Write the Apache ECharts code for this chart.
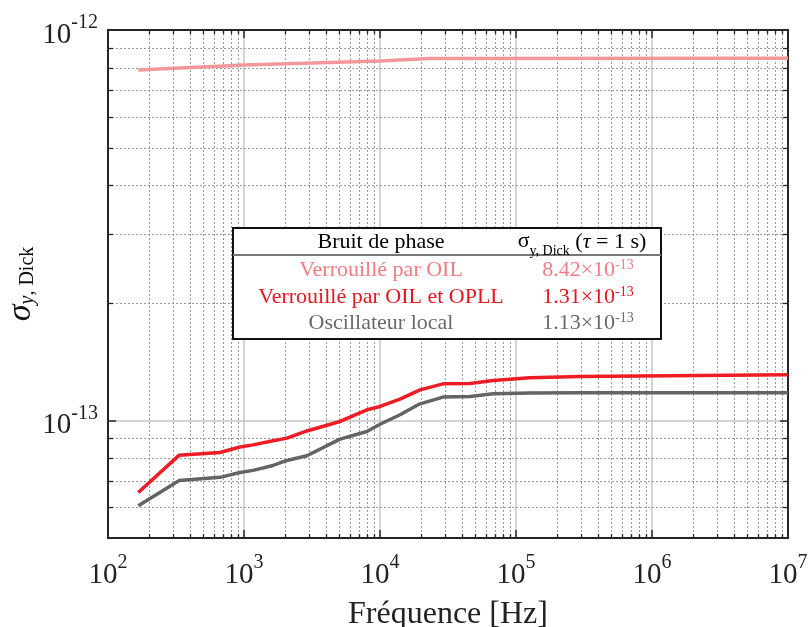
<!DOCTYPE html>
<html><head><meta charset="utf-8">
<script src="https://cdn.jsdelivr.net/npm/echarts@6/dist/echarts.min.js"></script>
<style>html,body{margin:0;padding:0;background:#fff}#c{width:810px;height:627px}</style>
</head><body><div id="c"></div>
<script>
// ---- data ----
const freqLocked = [167, 334, 666, 934, 1165, 1635, 2070, 2900, 5080, 8020, 10000, 14030, 19680, 29060, 45900, 67760, 126800, 295600, 1e7];
const sigmaOilOpll = [6.54e-14, 8.15e-14, 8.28e-14, 8.55e-14, 8.66e-14, 8.87e-14, 9.01e-14, 9.40e-14, 9.94e-14, 1.065e-13, 1.086e-13, 1.134e-13, 1.198e-13, 1.241e-13, 1.243e-13, 1.266e-13, 1.286e-13, 1.296e-13, 1.309e-13];
const sigmaLocal   = [6.05e-14, 7.02e-14, 7.15e-14, 7.36e-14, 7.45e-14, 7.67e-14, 7.90e-14, 8.12e-14, 8.96e-14, 9.37e-14, 9.78e-14, 1.034e-13, 1.103e-13, 1.148e-13, 1.152e-13, 1.170e-13, 1.175e-13, 1.177e-13, 1.177e-13];
const freqOil = [167, 1000, 10000, 23000, 1e7];
const sigmaOil = [7.90e-13, 8.14e-13, 8.33e-13, 8.45e-13, 8.47e-13];

const xMinor = [200,300,400,500,600,700,800,900,2e3,3e3,4e3,5e3,6e3,7e3,8e3,9e3,2e4,3e4,4e4,5e4,6e4,7e4,8e4,9e4,2e5,3e5,4e5,5e5,6e5,7e5,8e5,9e5,2e6,3e6,4e6,5e6,6e6,7e6,8e6,9e6];
const yMinor = [6e-14,7e-14,8e-14,9e-14,2e-13,3e-13,4e-13,5e-13,6e-13,7e-13,8e-13,9e-13];

const legendHeader = ['Bruit de phase', 'σ', 'y, Dick', ' (', 'τ', ' = 1 s)'];
const legendLabels = ['Verrouillé par OIL', 'Verrouillé par OIL et OPLL', 'Oscillateur local'];
const legendValues = [8.42e-13, 1.31e-13, 1.13e-13];

// ---- styles ----
const FONT = '"Liberation Serif", "Times New Roman", serif';
const colPink = '#F3979C', colRed = '#EE1C25', colGray = '#646464';
const txtColors = ['#F07C84', '#E8141F', '#6a6a6a'];
const axisCol = '#262626';

function powLabel(v) {
  const l = Math.log10(v);
  const e = Math.round(l);
  if (Math.abs(l - e) > 1e-6) return '';
  return '{b|10}{s|' + e + '}';
}
const labelRich = {
  b: {fontFamily: FONT, fontSize: 29, color: '#222', lineHeight: 44},
  s: {fontFamily: FONT, fontSize: 20, color: '#222', verticalAlign: 'top', lineHeight: 20}
};

function vGrid(params, api) {
  const cs = params.coordSys;
  const x = Math.round(api.coord([api.value(0), api.value(1)])[0]) + 0.5;
  const top = cs.y, bot = cs.y + cs.height;
  return {type: 'group', children: [
    {type: 'line', shape: {x1: x, y1: top, x2: x, y2: bot}, style: {stroke: '#9c9c9c', lineWidth: 1, lineDash: [2, 2]}},
    {type: 'line', shape: {x1: x, y1: bot, x2: x, y2: bot - 4}, style: {stroke: axisCol, lineWidth: 1.3}},
    {type: 'line', shape: {x1: x, y1: top, x2: x, y2: top + 4}, style: {stroke: axisCol, lineWidth: 1.3}}
  ]};
}
function hGrid(params, api) {
  const cs = params.coordSys;
  const y = Math.round(api.coord([api.value(0), api.value(1)])[1]) + 0.5;
  const l = cs.x, r = cs.x + cs.width;
  return {type: 'group', children: [
    {type: 'line', shape: {x1: l, y1: y, x2: r, y2: y}, style: {stroke: '#9c9c9c', lineWidth: 1, lineDash: [2, 2]}},
    {type: 'line', shape: {x1: l, y1: y, x2: l + 5, y2: y}, style: {stroke: axisCol, lineWidth: 1.3}},
    {type: 'line', shape: {x1: r, y1: y, x2: r - 5, y2: y}, style: {stroke: axisCol, lineWidth: 1.3}}
  ]};
}

const zip = (xs, ys) => xs.map((x, i) => [x, ys[i]]);

const chart = echarts.init(document.getElementById('c'), null, {renderer: 'canvas'});

const baseAxisLine = {show: true, onZero: false, lineStyle: {color: axisCol, width: 2}};
const baseTick = {show: true, inside: true, length: 8, lineStyle: {color: axisCol, width: 1.5}};

// legend box graphics
const boxX = 233, boxY = 228, boxW = 428, boxH = 111;
const colL = 381, colR = 588;
const rowY = [270, 297, 323];
const gfx = [
  {type: 'rect', shape: {x: boxX, y: boxY, width: boxW, height: boxH}, style: {fill: '#fff', stroke: '#111', lineWidth: 2}, z: 100},
  {type: 'line', shape: {x1: boxX, y1: 255, x2: boxX + boxW, y2: 255}, style: {stroke: '#777', lineWidth: 2}, z: 101},
  {type: 'text', x: colL, y: 242, style: {text: legendHeader[0], fontFamily: FONT, fontSize: 22, fill: '#000', align: 'center', verticalAlign: 'middle'}, z: 101},
  {type: 'text', x: 582, y: 242, style: {
    text: '{g|' + legendHeader[1] + '}{sub|' + legendHeader[2] + '}{n|' + legendHeader[3] + '}{i|' + legendHeader[4] + '}{n|' + legendHeader[5] + '}',
    align: 'center', verticalAlign: 'middle',
    rich: {
      g: {fontFamily: FONT, fontSize: 22, fill: '#000', lineHeight: 24, verticalAlign: 'top'},
      sub: {fontFamily: FONT, fontSize: 14, fill: '#000', lineHeight: 24, verticalAlign: 'bottom', padding: [0,0,-4,0]},
      n: {fontFamily: FONT, fontSize: 22, fill: '#000', lineHeight: 24},
      i: {fontFamily: FONT, fontSize: 22, fill: '#000', fontStyle: 'italic', lineHeight: 24}
    }}, z: 101}
];
legendLabels.forEach((lab, i) => {
  gfx.push({type: 'text', x: colL, y: rowY[i], style: {text: lab, fontFamily: FONT, fontSize: 22, fill: txtColors[i], align: 'center', verticalAlign: 'middle'}, z: 101});
  const v = legendValues[i];
  const e = Math.floor(Math.log10(v));
  const m = (v / Math.pow(10, e)).toFixed(2);
  gfx.push({type: 'text', x: colR, y: rowY[i], style: {
    text: '{n|' + m + '×10}{s|' + e + '}', align: 'center', verticalAlign: 'middle',
    rich: {
      n: {fontFamily: FONT, fontSize: 22, fill: txtColors[i], lineHeight: 24},
      s: {fontFamily: FONT, fontSize: 14, fill: txtColors[i], lineHeight: 24, verticalAlign: 'top'}
    }}, z: 101});
});

chart.setOption({
  animation: false,
  backgroundColor: '#fff',
  grid: {left: 108, right: 22, top: 30, bottom: 89, containLabel: false, outerBoundsMode: 'none'},
  xAxis: [
    {type: 'log', logBase: 10, min: 100, max: 1e7, position: 'bottom',
     axisLine: baseAxisLine, axisTick: baseTick,
     axisLabel: {margin: 15, formatter: powLabel, rich: labelRich},
     splitLine: {show: true, lineStyle: {color: '#c6c6c6', width: 1.5}},
     minorTick: {show: false}, minorSplitLine: {show: false},
     name: 'Fréquence [Hz]', nameLocation: 'middle', nameGap: 61, nameMoveOverlap: false,
     nameTextStyle: {fontFamily: FONT, fontSize: 32, color: '#222'}},
    {type: 'log', logBase: 10, min: 100, max: 1e7, position: 'top',
     axisLine: baseAxisLine, axisTick: baseTick, axisLabel: {show: false}, splitLine: {show: false}}
  ],
  yAxis: [
    {type: 'log', logBase: 10, min: 5e-14, max: 1e-12, position: 'left',
     axisLine: baseAxisLine, axisTick: baseTick,
     axisLabel: {margin: 10, padding: [10, 0, 0, 0], formatter: powLabel, rich: labelRich},
     splitLine: {show: true, lineStyle: {color: '#c6c6c6', width: 1.5}},
     name: '{sg|σ}{sy|y}{sd|, Dick}', nameLocation: 'middle', nameGap: 70, nameRotate: 90, nameMoveOverlap: false,
     nameTextStyle: {rich: {
       sg: {fontFamily: FONT, fontSize: 34, fontStyle: 'italic', color: '#111', lineHeight: 34},
       sy: {fontFamily: FONT, fontSize: 20, fontStyle: 'italic', color: '#111', lineHeight: 34, verticalAlign: 'bottom'},
       sd: {fontFamily: FONT, fontSize: 20, color: '#111', lineHeight: 34, verticalAlign: 'bottom'}
     }}},
    {type: 'log', logBase: 10, min: 5e-14, max: 1e-12, position: 'right',
     axisLine: baseAxisLine, axisTick: baseTick, axisLabel: {show: false}, splitLine: {show: false}}
  ],
  graphic: gfx,
  series: [
    {type: 'custom', name: 'vgrid', renderItem: vGrid, data: xMinor.map(v => [v, 1e-13]), z: 1, silent: true, clip: false},
    {type: 'custom', name: 'hgrid', renderItem: hGrid, data: yMinor.map(v => [1000, v]), z: 1, silent: true, clip: false},
    {type: 'line', name: 'Verrouillé par OIL', data: zip(freqOil, sigmaOil), showSymbol: false, symbol: 'none',
     lineStyle: {color: colPink, width: 3.5}, z: 5},
    {type: 'line', name: 'Verrouillé par OIL et OPLL', data: zip(freqLocked, sigmaOilOpll), showSymbol: false, symbol: 'none',
     lineStyle: {color: colRed, width: 3.5}, z: 5},
    {type: 'line', name: 'Oscillateur local', data: zip(freqLocked, sigmaLocal), showSymbol: false, symbol: 'none',
     lineStyle: {color: colGray, width: 3.5}, z: 5}
  ]
});
</script></body></html>
